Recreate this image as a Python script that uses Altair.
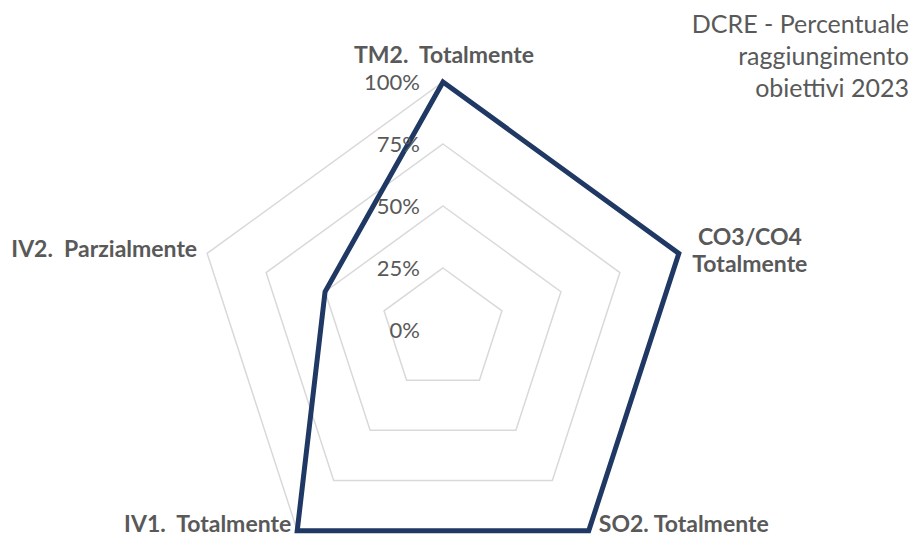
import altair as alt
import numpy as np
import pandas as pd

# ---- data ----
categories = ["TM2.\u00a0 Totalmente", "CO3/CO4\nTotalmente", "SO2. Totalmente", "IV1.\u00a0 Totalmente", "IV2.\u00a0 Parzialmente"]
values = [1.0, 1.0, 1.0, 1.0, 0.5]
ring_levels = [0.0, 0.25, 0.5, 0.75, 1.0]
ring_labels = ["0%", "25%", "50%", "75%", "100%"]
title_lines = ["DCRE - Percentuale", "raggiungimento", "obiettivi 2023"]

# ---- layout ----
W, H = 901, 531
CX, CY, R = 435, 322, 248
xdom = [-CX / R, (W - CX) / R]
ydom = [-(H - CY) / R, CY / R]

n = len(categories)
ang = np.deg2rad(90 - 72 * np.arange(n))

poly = pd.DataFrame({
    "idx": np.arange(n),
    "cat": categories,
    "v": values,
    "x": np.array(values) * np.cos(ang),
    "y": np.array(values) * np.sin(ang),
})

rings = []
for lvl in ring_levels[1:]:
    for i in range(n):
        rings.append({"ring": lvl, "idx": i, "x": lvl * np.cos(ang[i]), "y": lvl * np.sin(ang[i])})
rings = pd.DataFrame(rings)

ticks = pd.DataFrame({"lab": ring_labels, "x": [0.0] * len(ring_levels), "y": ring_levels})
labs = pd.DataFrame({"cat": categories, "x": np.cos(ang), "y": np.sin(ang)})

X = alt.X("x:Q", scale=alt.Scale(domain=xdom, nice=False, zero=False), axis=None)
Y = alt.Y("y:Q", scale=alt.Scale(domain=ydom, nice=False, zero=False), axis=None)

grid = alt.Chart(rings).mark_line(
    interpolate="linear-closed", color="#d9d9d9", strokeWidth=1.5
).encode(x=X, y=Y, detail="ring:N", order="idx:Q")

line = alt.Chart(poly).mark_line(
    interpolate="linear-closed", color="#1f3864", strokeWidth=5, strokeJoin="miter"
).encode(x=X, y=Y, order="idx:Q")

FONT = "Lato"
tick_text = alt.Chart(ticks).mark_text(
    align="right", baseline="alphabetic", dx=-23, dy=8, font=FONT, fontSize=22, color="#595959"
).encode(x=X, y=Y, text="lab:N")

def lab_layer(i, align, dx, dy):
    return alt.Chart(labs.iloc[[i]]).mark_text(
        align=align, baseline="alphabetic", dx=dx, dy=dy, font=FONT, fontSize=23,
        fontWeight="bold", color="#595959", lineBreak="\n", lineHeight=27
    ).encode(x=X, y=Y, text="cat:N")

cat_layers = [
    lab_layer(0, "center", 1, -19),
    lab_layer(1, "center", 71, -8),
    lab_layer(2, "left", 10, 1),
    lab_layer(3, "right", -6, 1),
    lab_layer(4, "right", -10, 4),
]

title_df = pd.DataFrame({"t": ["\n".join(title_lines)]})
title = alt.Chart(title_df).mark_text(
    align="right", baseline="alphabetic", font=FONT, fontSize=25, color="#595959",
    lineBreak="\n", lineHeight=32
).encode(x=alt.value(W), y=alt.value(25), text="t:N")

chart = alt.layer(grid, line, tick_text, *cat_layers, title).properties(
    width=W, height=H, autosize=alt.AutoSizeParams(type="none"), padding=0
).configure_view(stroke=None)

chart.save("out.html", embed_options={"renderer": "svg", "actions": False})
